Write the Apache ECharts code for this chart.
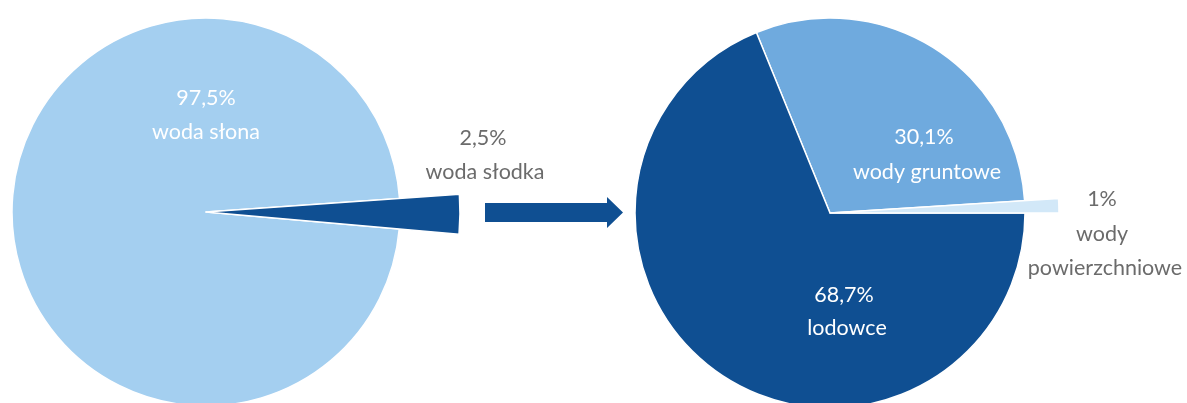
<!DOCTYPE html>
<html><head><meta charset="utf-8">
<script src="https://cdn.jsdelivr.net/npm/echarts@6/dist/echarts.min.js"></script>
<style>html,body{margin:0;padding:0;background:#fff}#c{width:1187px;height:403px}</style>
</head><body><div id="c"></div>
<script>
// Left pie: all water on Earth
const leftNames = ['woda słodka', 'woda słona'];
const leftValues = [2.5, 97.5];
// Right pie: fresh water breakdown
const rightNames = ['wody gruntowe', 'wody powierzchniowe', 'lodowce'];
const rightValues = [30.1, 1, 68.7];

const DARK = '#0F4F92', LEFT_LIGHT = '#A4CFF0', MID = '#6FAADE', PALE = '#D2E8F8';
const FONT = 'Lato, "Open Sans", sans-serif';
const fmt = v => String(v).replace('.', ',') + '%';

function pieLayer(names, values, colors, visible, center, radius, startAngle) {
  return {
    type: 'pie', center, radius, startAngle, clockwise: true, silent: true, z: 2,
    label: {show: false}, labelLine: {show: false}, emphasis: {disabled: true},
    data: names.map((n, i) => ({
      name: n, value: values[i],
      itemStyle: visible[i]
        ? {color: colors[i], borderColor: '#ffffff', borderWidth: 1.5}
        : {color: 'rgba(0,0,0,0)', borderWidth: 0}
    }))
  };
}

const leftColors = [DARK, LEFT_LIGHT];
const rightColors = [MID, PALE, DARK];
// right pie: light slice ends at 3 o'clock
const rightStart = (rightValues[0] + rightValues[1]) / rightValues.reduce((a, b) => a + b, 0) * 360;

const series = [
  pieLayer(leftNames, leftValues, leftColors, [false, true], [206, 212], 194, 4),
  pieLayer(leftNames, leftValues, leftColors, [true, false], [206, 212], 254, 4),
  pieLayer(rightNames, rightValues, rightColors, [true, false, true], [830, 213], 195, rightStart),
  pieLayer(rightNames, rightValues, rightColors, [false, true, false], [830, 213], 229, rightStart)
];

function txt(x, y, text, color) {
  return {type: 'text', x, y, silent: true, z: 100,
    style: {text, fill: color, font: '21.5px ' + FONT, textAlign: 'center', textVerticalAlign: 'middle'}};
}
const W = '#ffffff', G = '#6b6b6b';
const graphic = {elements: [
  {type: 'polygon', silent: true, z: 100,
   shape: {points: [[485,203],[607,203],[607,197],[623,212.5],[607,228],[607,222],[485,222]]},
   style: {fill: DARK}},
  txt(206, 98, fmt(leftValues[1]), W), txt(206, 132, leftNames[1], W),
  txt(483, 138, fmt(leftValues[0]), G), txt(485, 172, leftNames[0], G),
  txt(924, 137, fmt(rightValues[0]), W), txt(927, 172, rightNames[0], W),
  txt(844, 295, fmt(rightValues[2]), W), txt(847, 328, rightNames[2], W),
  txt(1102, 199, fmt(rightValues[1]), G), txt(1102, 234, 'wody', G), txt(1105, 268, 'powierzchniowe', G)
]};

const chart = echarts.init(document.getElementById('c'), null, {renderer: 'canvas'});
chart.setOption({animation: false, backgroundColor: '#ffffff', series, graphic});
</script></body></html>
